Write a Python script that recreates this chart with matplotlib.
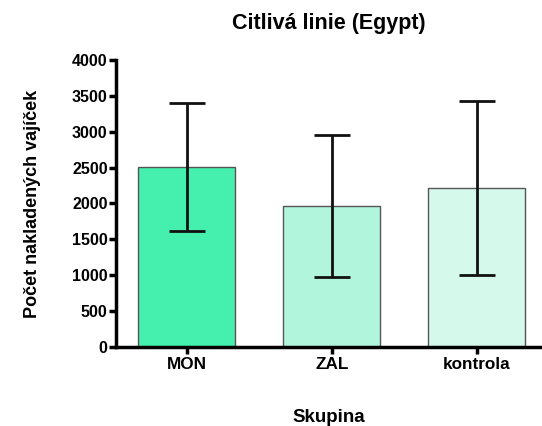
import matplotlib.pyplot as plt

groups = ["MON", "ZAL", "kontrola"]
means = [2510, 1960, 2215]
sds = [890, 990, 1210]
colors = ["#45F0AE", "#B2F5DD", "#D5FAEC"]

plt.rcParams['font.family'] = ['Liberation Sans', 'DejaVu Sans']
plt.rcParams['font.weight'] = 'bold'

fig = plt.figure(figsize=(5.42, 4.26), dpi=100)
ax = fig.add_axes([116/542, 79/426, 426/542, 287/426])

x = range(len(groups))
ax.bar(x, means, width=0.67, color=colors, edgecolor="#555555", linewidth=1.0, zorder=2)
ax.errorbar(x, means, yerr=sds, fmt='none', ecolor='#111111', elinewidth=2,
            capsize=13, capthick=2, zorder=3)

ax.set_xlim(-0.488, 2.45)
ax.set_ylim(0, 4000)
ax.set_yticks(range(0, 4001, 500))
ax.set_xticks(list(x))
ax.set_xticklabels(groups)

for s in ['top', 'right']:
    ax.spines[s].set_visible(False)
for s in ['left', 'bottom']:
    ax.spines[s].set_linewidth(2.5)
ax.tick_params(width=2.5, length=5, labelsize=11.5, pad=1)
ax.tick_params(axis='x', labelsize=12.3, pad=2)

ax.set_title("Citlivá linie (Egypt)", fontsize=15.5, fontweight='bold', pad=22)
ax.set_ylabel("Počet nakladených vajíček", fontsize=13, fontweight='bold', labelpad=22)
ax.set_xlabel("Skupina", fontsize=13.5, fontweight='bold', labelpad=27)

fig.savefig("out.png", dpi=100)
